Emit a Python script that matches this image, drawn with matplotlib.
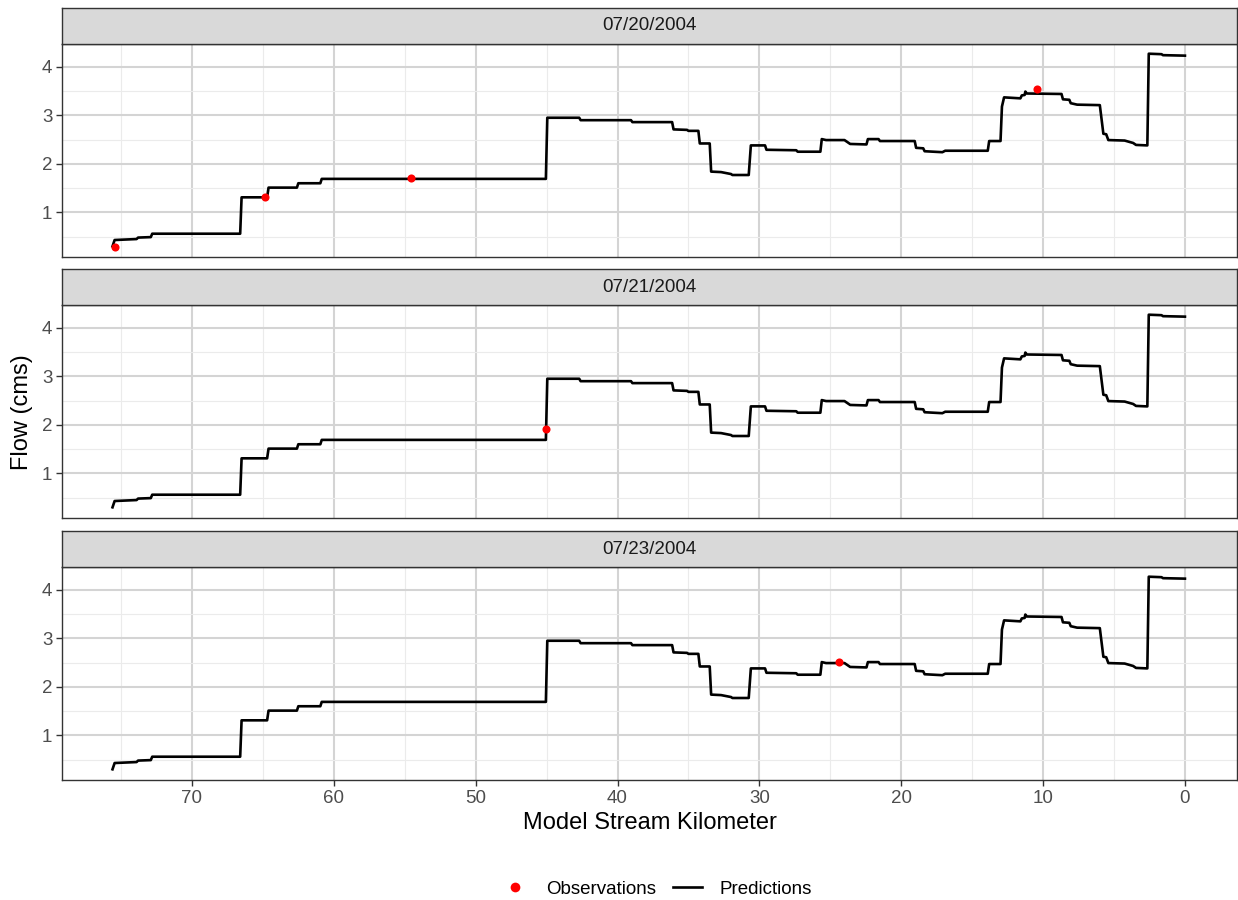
import numpy as np
import matplotlib
matplotlib.use("Agg")
import matplotlib.pyplot as plt
from matplotlib.lines import Line2D
from matplotlib.ticker import MultipleLocator

plt.rcParams['font.family'] = ['Liberation Sans', 'DejaVu Sans']

# data
dates = ["07/20/2004", "07/21/2004", "07/23/2004"]

# predicted flow profile (km, cms), same for every date
pred_km = [75.6, 75.45, 73.9, 73.8, 72.9, 72.8, 66.6, 66.5, 64.7, 64.6,
           62.6, 62.5, 60.95, 60.85, 45.05, 44.95, 42.7, 42.6, 39.05, 38.95,
           36.15, 36.05, 35.1, 35.0, 34.3, 34.2, 33.5, 33.4, 32.7, 32.0,
           31.9, 30.75, 30.6, 29.6, 29.5, 27.4, 27.3, 25.7, 25.6, 25.3,
           24.0, 23.6, 22.45, 22.35, 21.6, 21.5, 19.05, 18.95, 18.45, 18.35,
           17.1, 16.9, 13.9, 13.8, 13.0, 12.9, 12.75, 11.6, 11.5, 11.3,
           11.25, 11.15, 8.7, 8.6, 8.15, 8.05, 7.6, 6.0, 5.75, 5.55,
           5.4, 4.25, 3.65, 3.45, 2.65, 2.55, 1.65, 1.55, 0.0]
pred_flow = [0.30, 0.43, 0.45, 0.48, 0.49, 0.56, 0.56, 1.31, 1.31, 1.51,
             1.51, 1.60, 1.60, 1.69, 1.69, 2.95, 2.95, 2.90, 2.90, 2.86,
             2.86, 2.71, 2.70, 2.68, 2.68, 2.42, 2.42, 1.84, 1.83, 1.79,
             1.77, 1.77, 2.38, 2.38, 2.29, 2.28, 2.25, 2.25, 2.51, 2.49,
             2.49, 2.41, 2.40, 2.51, 2.51, 2.47, 2.47, 2.33, 2.32, 2.26,
             2.24, 2.27, 2.27, 2.47, 2.47, 3.18, 3.37, 3.35, 3.41, 3.42,
             3.49, 3.45, 3.44, 3.33, 3.32, 3.25, 3.22, 3.21, 2.62, 2.61,
             2.49, 2.48, 2.43, 2.39, 2.38, 4.27, 4.26, 4.24, 4.23]

# observations per date
obs_date = ["07/20/2004", "07/20/2004", "07/20/2004", "07/20/2004",
            "07/21/2004", "07/23/2004"]
obs_km = [75.45, 64.85, 54.55, 10.4, 45.05, 24.4]
obs_flow = [0.28, 1.31, 1.70, 3.54, 1.92, 2.51]


# facet panels
# -------------------------------------------------------------------------
fig = plt.figure(figsize=(12.38, 9), dpi=100)

left = 62 / 1238
width = (1237 - 62) / 1238
panel_top = [44, 305, 567]
panel_h = 213
strip_h = 36

xlo, xhi = 79.16, -3.67
ylo, yhi = 0.08, 4.47

axes = []
for i, d in enumerate(dates):
    top = panel_top[i]
    ax = fig.add_axes([left, 1 - (top + panel_h) / 900, width, panel_h / 900])
    ax.set_facecolor("white")

    ax.plot(pred_km, pred_flow, color="black", lw=1.9, zorder=3)
    ok = [j for j in range(len(obs_date)) if obs_date[j] == d]
    ax.scatter([obs_km[j] for j in ok], [obs_flow[j] for j in ok],
               s=34, color="red", zorder=4, linewidths=0)

    ax.set_xlim(xlo, xhi)
    ax.set_ylim(ylo, yhi)
    ax.xaxis.set_major_locator(MultipleLocator(10))
    ax.xaxis.set_minor_locator(MultipleLocator(5))
    ax.yaxis.set_major_locator(MultipleLocator(1))
    ax.yaxis.set_minor_locator(MultipleLocator(0.5))
    ax.set_yticks([1, 2, 3, 4])
    ax.grid(True, which="major", color="#D4D4D4", lw=1.5, zorder=0)
    ax.grid(True, which="minor", color="#EBEBEB", lw=0.8, zorder=0)
    ax.set_axisbelow(True)
    ax.tick_params(which="minor", length=0)
    ax.tick_params(which="major", length=4, width=1, color="#333333",
                   labelcolor="#4D4D4D", labelsize=13.5, pad=3)
    for s in ax.spines.values():
        s.set_color("#333333")
        s.set_linewidth(1.0)
    if i < 2:
        ax.tick_params(axis="x", which="both", length=0, labelbottom=False)

    # strip
    sax = fig.add_axes([left, 1 - top / 900, width, strip_h / 900])
    sax.set_facecolor("#D9D9D9")
    sax.set_xticks([])
    sax.set_yticks([])
    for s in sax.spines.values():
        s.set_color("#333333")
        s.set_linewidth(1.0)
    sax.text(0.5, 0.5, d, ha="center", va="center", fontsize=13.5,
             color="#1A1A1A", transform=sax.transAxes)
    axes.append(ax)

axes[2].set_xlabel("Model Stream Kilometer", fontsize=17, labelpad=4)
fig.text(22 / 1238, 1 - 412 / 900, "Flow (cms)", rotation=90, fontsize=17,
         ha="center", va="center")

# legend
handles = [Line2D([], [], marker="o", ls="", color="red", markersize=7,
                  markeredgewidth=0, label="Observations"),
           Line2D([], [], color="black", lw=1.9, label="Predictions")]
fig.legend(handles=handles, loc="center", ncol=2, frameon=False,
           fontsize=13.5, bbox_to_anchor=(656 / 1238, 1 - 889 / 900),
           borderpad=0, handlelength=1.55, columnspacing=0.9,
           handletextpad=0.9)

fig.savefig("out.png", dpi=100)
